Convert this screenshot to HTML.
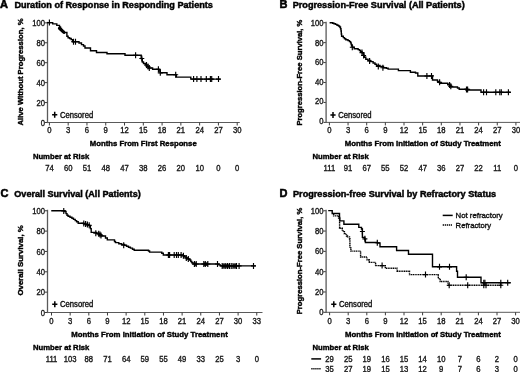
<!DOCTYPE html>
<html><head><meta charset="utf-8"><style>
html,body{margin:0;padding:0;background:#fff;width:520px;height:372px;overflow:hidden}
svg{display:block;will-change:transform;font-family:"Liberation Sans", sans-serif}
text{stroke:#000;stroke-width:.35px;paint-order:stroke}
text[font-weight=bold]{stroke-width:.4px}
text.H{stroke-width:.45px}
text.L{stroke-width:.55px}
</style></head><body>
<svg width="520" height="372" viewBox="0 0 520 372">
<rect width="520" height="372" fill="#fff"/>
<text x="0.1" y="8.3" font-size="11" font-weight="bold" fill="#000" class="L">A</text>
<text x="14.4" y="8.1" font-size="9" font-weight="bold" textLength="198.5" lengthAdjust="spacingAndGlyphs" fill="#000" class="H">Duration of Response in Responding Patients</text>
<line x1="47.5" y1="21.85" x2="47.5" y2="123.1" stroke="#5a5a5a" stroke-width="1.3"/>
<line x1="44.900000000000006" y1="122.5" x2="47.2" y2="122.5" stroke="#3a3a3a" stroke-width="1"/>
<text transform="translate(44.9,125.6) scale(0.89,1)" font-size="8.6" text-anchor="end" fill="#1a1a1a">0</text>
<line x1="44.900000000000006" y1="102.57" x2="47.2" y2="102.57" stroke="#3a3a3a" stroke-width="1"/>
<text transform="translate(44.9,105.67) scale(0.89,1)" font-size="8.6" text-anchor="end" fill="#1a1a1a">20</text>
<line x1="44.900000000000006" y1="82.64" x2="47.2" y2="82.64" stroke="#3a3a3a" stroke-width="1"/>
<text transform="translate(44.9,85.74) scale(0.89,1)" font-size="8.6" text-anchor="end" fill="#1a1a1a">40</text>
<line x1="44.900000000000006" y1="62.709999999999994" x2="47.2" y2="62.709999999999994" stroke="#3a3a3a" stroke-width="1"/>
<text transform="translate(44.9,65.81) scale(0.89,1)" font-size="8.6" text-anchor="end" fill="#1a1a1a">60</text>
<line x1="44.900000000000006" y1="42.78" x2="47.2" y2="42.78" stroke="#3a3a3a" stroke-width="1"/>
<text transform="translate(44.9,45.88) scale(0.89,1)" font-size="8.6" text-anchor="end" fill="#1a1a1a">80</text>
<line x1="44.900000000000006" y1="22.849999999999994" x2="47.2" y2="22.849999999999994" stroke="#3a3a3a" stroke-width="1"/>
<text transform="translate(44.9,25.95) scale(0.89,1)" font-size="8.6" text-anchor="end" fill="#1a1a1a">100</text>
<line x1="47.2" y1="122.5" x2="239.8" y2="122.5" stroke="#5a5a5a" stroke-width="1"/>
<line x1="49.4" y1="122.5" x2="49.4" y2="125.5" stroke="#3a3a3a" stroke-width="1"/>
<text transform="translate(49.4,133.3) scale(0.89,1)" font-size="8.6" text-anchor="middle" fill="#1a1a1a">0</text>
<line x1="68.18" y1="122.5" x2="68.18" y2="125.5" stroke="#3a3a3a" stroke-width="1"/>
<text transform="translate(68.18,133.3) scale(0.89,1)" font-size="8.6" text-anchor="middle" fill="#1a1a1a">3</text>
<line x1="86.96" y1="122.5" x2="86.96" y2="125.5" stroke="#3a3a3a" stroke-width="1"/>
<text transform="translate(86.96,133.3) scale(0.89,1)" font-size="8.6" text-anchor="middle" fill="#1a1a1a">6</text>
<line x1="105.74" y1="122.5" x2="105.74" y2="125.5" stroke="#3a3a3a" stroke-width="1"/>
<text transform="translate(105.74,133.3) scale(0.89,1)" font-size="8.6" text-anchor="middle" fill="#1a1a1a">9</text>
<line x1="124.52" y1="122.5" x2="124.52" y2="125.5" stroke="#3a3a3a" stroke-width="1"/>
<text transform="translate(124.52,133.3) scale(0.89,1)" font-size="8.6" text-anchor="middle" fill="#1a1a1a">12</text>
<line x1="143.3" y1="122.5" x2="143.3" y2="125.5" stroke="#3a3a3a" stroke-width="1"/>
<text transform="translate(143.3,133.3) scale(0.89,1)" font-size="8.6" text-anchor="middle" fill="#1a1a1a">15</text>
<line x1="162.08" y1="122.5" x2="162.08" y2="125.5" stroke="#3a3a3a" stroke-width="1"/>
<text transform="translate(162.08,133.3) scale(0.89,1)" font-size="8.6" text-anchor="middle" fill="#1a1a1a">18</text>
<line x1="180.86" y1="122.5" x2="180.86" y2="125.5" stroke="#3a3a3a" stroke-width="1"/>
<text transform="translate(180.86,133.3) scale(0.89,1)" font-size="8.6" text-anchor="middle" fill="#1a1a1a">21</text>
<line x1="199.64" y1="122.5" x2="199.64" y2="125.5" stroke="#3a3a3a" stroke-width="1"/>
<text transform="translate(199.64,133.3) scale(0.89,1)" font-size="8.6" text-anchor="middle" fill="#1a1a1a">24</text>
<line x1="218.42" y1="122.5" x2="218.42" y2="125.5" stroke="#3a3a3a" stroke-width="1"/>
<text transform="translate(218.42,133.3) scale(0.89,1)" font-size="8.6" text-anchor="middle" fill="#1a1a1a">27</text>
<line x1="237.2" y1="122.5" x2="237.2" y2="125.5" stroke="#3a3a3a" stroke-width="1"/>
<text transform="translate(237.2,133.3) scale(0.89,1)" font-size="8.6" text-anchor="middle" fill="#1a1a1a">30</text>
<text transform="translate(22.8,72.0) rotate(-90)" x="0" y="0" font-size="8" font-weight="bold" text-anchor="middle" textLength="107" lengthAdjust="spacingAndGlyphs" fill="#000">Alive Without Progression, %</text>
<text x="89.8" y="146" font-size="8.0" font-weight="bold" textLength="106.9" lengthAdjust="spacingAndGlyphs" fill="#000">Months From First Response</text>
<text x="32.9" y="159.2" font-size="8.0" font-weight="bold" textLength="56.3" lengthAdjust="spacingAndGlyphs" fill="#000">Number at Risk</text>
<text transform="translate(49.4,170.6) scale(0.89,1)" font-size="8.6" text-anchor="middle" fill="#1a1a1a">74</text>
<text transform="translate(68.18,170.6) scale(0.89,1)" font-size="8.6" text-anchor="middle" fill="#1a1a1a">60</text>
<text transform="translate(86.96,170.6) scale(0.89,1)" font-size="8.6" text-anchor="middle" fill="#1a1a1a">51</text>
<text transform="translate(105.74,170.6) scale(0.89,1)" font-size="8.6" text-anchor="middle" fill="#1a1a1a">48</text>
<text transform="translate(124.52,170.6) scale(0.89,1)" font-size="8.6" text-anchor="middle" fill="#1a1a1a">47</text>
<text transform="translate(143.3,170.6) scale(0.89,1)" font-size="8.6" text-anchor="middle" fill="#1a1a1a">38</text>
<text transform="translate(162.08,170.6) scale(0.89,1)" font-size="8.6" text-anchor="middle" fill="#1a1a1a">26</text>
<text transform="translate(180.86,170.6) scale(0.89,1)" font-size="8.6" text-anchor="middle" fill="#1a1a1a">20</text>
<text transform="translate(199.64,170.6) scale(0.89,1)" font-size="8.6" text-anchor="middle" fill="#1a1a1a">10</text>
<text transform="translate(218.42,170.6) scale(0.89,1)" font-size="8.6" text-anchor="middle" fill="#1a1a1a">0</text>
<text transform="translate(237.2,170.6) scale(0.89,1)" font-size="8.6" text-anchor="middle" fill="#1a1a1a">0</text>
<path d="M52.1 114.8H57.300000000000004M54.7 111.8V117.8" stroke="#000" stroke-width="1.5" fill="none"/>
<text x="59.9" y="117.5" font-size="8.2" textLength="33.3" lengthAdjust="spacingAndGlyphs" fill="#111">Censored</text>
<path d="M47.4 22.6H52.7V23.9H56.8V25.4H59.5V27H60.5V28.5H61.5V30H62.5V31.5H64V32.5H66.9V36.2H68.1V37.7H69.6V38.5H71.2V39.6H72.7V41.7H79V43H81.5V44.6H83.5V46H85V48H90.5V50.8H96.5V52.5H107V53.8H125V55.2H141.2V58.5H142.3V62H143.5V63.5H145.5V65H147V66.5H148.5V68H152.6V69.3H159V71H160.3V72.8H167V74.7H176.3V77.1H190.8V79.1H220.5" stroke="#000" stroke-width="1.4" fill="none"/>
<path d="M59.4 28.3L63.9 32.4" stroke="#000" stroke-width="3" stroke-linecap="round"/>
<path d="M46.9 22.6H51.9M49.4 19.6V25.6" stroke="#000" stroke-width="1.15" fill="none"/>
<path d="M71.0 41.7H76.0M73.5 38.7V44.7" stroke="#000" stroke-width="1.15" fill="none"/>
<path d="M73.0 41.7H78.0M75.5 38.7V44.7" stroke="#000" stroke-width="1.15" fill="none"/>
<path d="M133.1 55.2H138.1M135.6 52.2V58.2" stroke="#000" stroke-width="1.15" fill="none"/>
<path d="M139.3 58.5H144.3M141.8 55.5V61.5" stroke="#000" stroke-width="1.15" fill="none"/>
<path d="M144.0 65H149.0M146.5 62.0V68.0" stroke="#000" stroke-width="1.15" fill="none"/>
<path d="M145.5 66.5H150.5M148 63.5V69.5" stroke="#000" stroke-width="1.15" fill="none"/>
<path d="M146.8 68H151.8M149.3 65.0V71.0" stroke="#000" stroke-width="1.15" fill="none"/>
<path d="M155.9 69.3H160.9M158.4 66.3V72.3" stroke="#000" stroke-width="1.15" fill="none"/>
<path d="M157.8 72.8H162.8M160.3 69.8V75.8" stroke="#000" stroke-width="1.15" fill="none"/>
<path d="M173.2 74.7H178.2M175.7 71.7V77.7" stroke="#000" stroke-width="1.15" fill="none"/>
<path d="M191.1 79.1H196.1M193.6 76.1V82.1" stroke="#000" stroke-width="1.15" fill="none"/>
<path d="M194.4 79.1H199.4M196.9 76.1V82.1" stroke="#000" stroke-width="1.15" fill="none"/>
<path d="M198.5 79.1H203.5M201 76.1V82.1" stroke="#000" stroke-width="1.15" fill="none"/>
<path d="M203.8 79.1H208.8M206.3 76.1V82.1" stroke="#000" stroke-width="1.15" fill="none"/>
<path d="M207.9 79.1H212.9M210.4 76.1V82.1" stroke="#000" stroke-width="1.15" fill="none"/>
<path d="M209.2 79.1H214.2M211.7 76.1V82.1" stroke="#000" stroke-width="1.15" fill="none"/>
<path d="M216.0 79.1H221.0M218.5 76.1V82.1" stroke="#000" stroke-width="1.15" fill="none"/>
<text x="279.5" y="8.2" font-size="11" font-weight="bold" fill="#000" class="L">B</text>
<text x="292.7" y="7.95" font-size="9" font-weight="bold" textLength="172" lengthAdjust="spacingAndGlyphs" fill="#000" class="H">Progression-Free Survival (All Patients)</text>
<line x1="326.1" y1="21.7" x2="326.1" y2="123.0" stroke="#5a5a5a" stroke-width="1.3"/>
<line x1="323.5" y1="122.4" x2="325.8" y2="122.4" stroke="#3a3a3a" stroke-width="1"/>
<text transform="translate(323.5,123.5) scale(0.89,1)" font-size="8.6" text-anchor="end" fill="#1a1a1a">0</text>
<line x1="323.5" y1="102.46000000000001" x2="325.8" y2="102.46000000000001" stroke="#3a3a3a" stroke-width="1"/>
<text transform="translate(323.5,104.01) scale(0.89,1)" font-size="8.6" text-anchor="end" fill="#1a1a1a">20</text>
<line x1="323.5" y1="82.52000000000001" x2="325.8" y2="82.52000000000001" stroke="#3a3a3a" stroke-width="1"/>
<text transform="translate(323.5,84.52) scale(0.89,1)" font-size="8.6" text-anchor="end" fill="#1a1a1a">40</text>
<line x1="323.5" y1="62.58" x2="325.8" y2="62.58" stroke="#3a3a3a" stroke-width="1"/>
<text transform="translate(323.5,65.03) scale(0.89,1)" font-size="8.6" text-anchor="end" fill="#1a1a1a">60</text>
<line x1="323.5" y1="42.64" x2="325.8" y2="42.64" stroke="#3a3a3a" stroke-width="1"/>
<text transform="translate(323.5,45.54) scale(0.89,1)" font-size="8.6" text-anchor="end" fill="#1a1a1a">80</text>
<line x1="323.5" y1="22.700000000000003" x2="325.8" y2="22.700000000000003" stroke="#3a3a3a" stroke-width="1"/>
<text transform="translate(323.5,26.05) scale(0.89,1)" font-size="8.6" text-anchor="end" fill="#1a1a1a">100</text>
<line x1="325.8" y1="122.4" x2="520" y2="122.4" stroke="#5a5a5a" stroke-width="1"/>
<line x1="329.4" y1="122.4" x2="329.4" y2="125.4" stroke="#3a3a3a" stroke-width="1"/>
<text transform="translate(329.4,133.3) scale(0.89,1)" font-size="8.6" text-anchor="middle" fill="#1a1a1a">0</text>
<line x1="348.05" y1="122.4" x2="348.05" y2="125.4" stroke="#3a3a3a" stroke-width="1"/>
<text transform="translate(348.05,133.3) scale(0.89,1)" font-size="8.6" text-anchor="middle" fill="#1a1a1a">3</text>
<line x1="366.7" y1="122.4" x2="366.7" y2="125.4" stroke="#3a3a3a" stroke-width="1"/>
<text transform="translate(366.7,133.3) scale(0.89,1)" font-size="8.6" text-anchor="middle" fill="#1a1a1a">6</text>
<line x1="385.35" y1="122.4" x2="385.35" y2="125.4" stroke="#3a3a3a" stroke-width="1"/>
<text transform="translate(385.35,133.3) scale(0.89,1)" font-size="8.6" text-anchor="middle" fill="#1a1a1a">9</text>
<line x1="404.0" y1="122.4" x2="404.0" y2="125.4" stroke="#3a3a3a" stroke-width="1"/>
<text transform="translate(404.0,133.3) scale(0.89,1)" font-size="8.6" text-anchor="middle" fill="#1a1a1a">12</text>
<line x1="422.65" y1="122.4" x2="422.65" y2="125.4" stroke="#3a3a3a" stroke-width="1"/>
<text transform="translate(422.65,133.3) scale(0.89,1)" font-size="8.6" text-anchor="middle" fill="#1a1a1a">15</text>
<line x1="441.31" y1="122.4" x2="441.31" y2="125.4" stroke="#3a3a3a" stroke-width="1"/>
<text transform="translate(441.31,133.3) scale(0.89,1)" font-size="8.6" text-anchor="middle" fill="#1a1a1a">18</text>
<line x1="459.96" y1="122.4" x2="459.96" y2="125.4" stroke="#3a3a3a" stroke-width="1"/>
<text transform="translate(459.96,133.3) scale(0.89,1)" font-size="8.6" text-anchor="middle" fill="#1a1a1a">21</text>
<line x1="478.61" y1="122.4" x2="478.61" y2="125.4" stroke="#3a3a3a" stroke-width="1"/>
<text transform="translate(478.61,133.3) scale(0.89,1)" font-size="8.6" text-anchor="middle" fill="#1a1a1a">24</text>
<line x1="497.26" y1="122.4" x2="497.26" y2="125.4" stroke="#3a3a3a" stroke-width="1"/>
<text transform="translate(497.26,133.3) scale(0.89,1)" font-size="8.6" text-anchor="middle" fill="#1a1a1a">27</text>
<line x1="515.91" y1="122.4" x2="515.91" y2="125.4" stroke="#3a3a3a" stroke-width="1"/>
<text transform="translate(515.91,133.3) scale(0.89,1)" font-size="8.6" text-anchor="middle" fill="#1a1a1a">30</text>
<text transform="translate(302.0,72.6) rotate(-90)" x="0" y="0" font-size="8" font-weight="bold" text-anchor="middle" textLength="106" lengthAdjust="spacingAndGlyphs" fill="#000">Progression-Free Survival, %</text>
<text x="344.7" y="146" font-size="8.0" font-weight="bold" textLength="156.1" lengthAdjust="spacingAndGlyphs" fill="#000">Months From Initiation of Study Treatment</text>
<text x="312.5" y="159.2" font-size="8.0" font-weight="bold" textLength="56.3" lengthAdjust="spacingAndGlyphs" fill="#000">Number at Risk</text>
<text transform="translate(329.4,170.6) scale(0.89,1)" font-size="8.6" text-anchor="middle" fill="#1a1a1a">111</text>
<text transform="translate(348.05,170.6) scale(0.89,1)" font-size="8.6" text-anchor="middle" fill="#1a1a1a">91</text>
<text transform="translate(366.7,170.6) scale(0.89,1)" font-size="8.6" text-anchor="middle" fill="#1a1a1a">67</text>
<text transform="translate(385.35,170.6) scale(0.89,1)" font-size="8.6" text-anchor="middle" fill="#1a1a1a">55</text>
<text transform="translate(404.0,170.6) scale(0.89,1)" font-size="8.6" text-anchor="middle" fill="#1a1a1a">52</text>
<text transform="translate(422.65,170.6) scale(0.89,1)" font-size="8.6" text-anchor="middle" fill="#1a1a1a">47</text>
<text transform="translate(441.31,170.6) scale(0.89,1)" font-size="8.6" text-anchor="middle" fill="#1a1a1a">36</text>
<text transform="translate(459.96,170.6) scale(0.89,1)" font-size="8.6" text-anchor="middle" fill="#1a1a1a">27</text>
<text transform="translate(478.61,170.6) scale(0.89,1)" font-size="8.6" text-anchor="middle" fill="#1a1a1a">22</text>
<text transform="translate(497.26,170.6) scale(0.89,1)" font-size="8.6" text-anchor="middle" fill="#1a1a1a">11</text>
<text transform="translate(515.91,170.6) scale(0.89,1)" font-size="8.6" text-anchor="middle" fill="#1a1a1a">0</text>
<path d="M330.4 114.89999999999999H335.6M333.0 111.89999999999999V117.89999999999999" stroke="#000" stroke-width="1.5" fill="none"/>
<text x="338.2" y="117.6" font-size="8.2" textLength="33.3" lengthAdjust="spacingAndGlyphs" fill="#111">Censored</text>
<text x="0.4" y="197.3" font-size="11" font-weight="bold" fill="#000" class="L">C</text>
<text x="14.3" y="197" font-size="9" font-weight="bold" textLength="126.4" lengthAdjust="spacingAndGlyphs" fill="#000" class="H">Overall Survival (All Patients)</text>
<line x1="47.5" y1="209.75" x2="47.5" y2="313.1" stroke="#5a5a5a" stroke-width="1.3"/>
<line x1="44.900000000000006" y1="312.5" x2="47.2" y2="312.5" stroke="#3a3a3a" stroke-width="1"/>
<text transform="translate(44.9,315.6) scale(0.89,1)" font-size="8.6" text-anchor="end" fill="#1a1a1a">0</text>
<line x1="44.900000000000006" y1="292.15" x2="47.2" y2="292.15" stroke="#3a3a3a" stroke-width="1"/>
<text transform="translate(44.9,295.25) scale(0.89,1)" font-size="8.6" text-anchor="end" fill="#1a1a1a">20</text>
<line x1="44.900000000000006" y1="271.8" x2="47.2" y2="271.8" stroke="#3a3a3a" stroke-width="1"/>
<text transform="translate(44.9,274.9) scale(0.89,1)" font-size="8.6" text-anchor="end" fill="#1a1a1a">40</text>
<line x1="44.900000000000006" y1="251.45" x2="47.2" y2="251.45" stroke="#3a3a3a" stroke-width="1"/>
<text transform="translate(44.9,254.55) scale(0.89,1)" font-size="8.6" text-anchor="end" fill="#1a1a1a">60</text>
<line x1="44.900000000000006" y1="231.1" x2="47.2" y2="231.1" stroke="#3a3a3a" stroke-width="1"/>
<text transform="translate(44.9,234.2) scale(0.89,1)" font-size="8.6" text-anchor="end" fill="#1a1a1a">80</text>
<line x1="44.900000000000006" y1="210.75" x2="47.2" y2="210.75" stroke="#3a3a3a" stroke-width="1"/>
<text transform="translate(44.9,213.85) scale(0.89,1)" font-size="8.6" text-anchor="end" fill="#1a1a1a">100</text>
<line x1="47.2" y1="312.5" x2="262.5" y2="312.5" stroke="#5a5a5a" stroke-width="1"/>
<line x1="51.5" y1="312.5" x2="51.5" y2="315.5" stroke="#3a3a3a" stroke-width="1"/>
<text transform="translate(51.5,323.5) scale(0.89,1)" font-size="8.6" text-anchor="middle" fill="#1a1a1a">0</text>
<line x1="70.16" y1="312.5" x2="70.16" y2="315.5" stroke="#3a3a3a" stroke-width="1"/>
<text transform="translate(70.16,323.5) scale(0.89,1)" font-size="8.6" text-anchor="middle" fill="#1a1a1a">3</text>
<line x1="88.82" y1="312.5" x2="88.82" y2="315.5" stroke="#3a3a3a" stroke-width="1"/>
<text transform="translate(88.82,323.5) scale(0.89,1)" font-size="8.6" text-anchor="middle" fill="#1a1a1a">6</text>
<line x1="107.48" y1="312.5" x2="107.48" y2="315.5" stroke="#3a3a3a" stroke-width="1"/>
<text transform="translate(107.48,323.5) scale(0.89,1)" font-size="8.6" text-anchor="middle" fill="#1a1a1a">9</text>
<line x1="126.14" y1="312.5" x2="126.14" y2="315.5" stroke="#3a3a3a" stroke-width="1"/>
<text transform="translate(126.14,323.5) scale(0.89,1)" font-size="8.6" text-anchor="middle" fill="#1a1a1a">12</text>
<line x1="144.8" y1="312.5" x2="144.8" y2="315.5" stroke="#3a3a3a" stroke-width="1"/>
<text transform="translate(144.8,323.5) scale(0.89,1)" font-size="8.6" text-anchor="middle" fill="#1a1a1a">15</text>
<line x1="163.46" y1="312.5" x2="163.46" y2="315.5" stroke="#3a3a3a" stroke-width="1"/>
<text transform="translate(163.46,323.5) scale(0.89,1)" font-size="8.6" text-anchor="middle" fill="#1a1a1a">18</text>
<line x1="182.12" y1="312.5" x2="182.12" y2="315.5" stroke="#3a3a3a" stroke-width="1"/>
<text transform="translate(182.12,323.5) scale(0.89,1)" font-size="8.6" text-anchor="middle" fill="#1a1a1a">21</text>
<line x1="200.78" y1="312.5" x2="200.78" y2="315.5" stroke="#3a3a3a" stroke-width="1"/>
<text transform="translate(200.78,323.5) scale(0.89,1)" font-size="8.6" text-anchor="middle" fill="#1a1a1a">24</text>
<line x1="219.44" y1="312.5" x2="219.44" y2="315.5" stroke="#3a3a3a" stroke-width="1"/>
<text transform="translate(219.44,323.5) scale(0.89,1)" font-size="8.6" text-anchor="middle" fill="#1a1a1a">27</text>
<line x1="238.1" y1="312.5" x2="238.1" y2="315.5" stroke="#3a3a3a" stroke-width="1"/>
<text transform="translate(238.1,323.5) scale(0.89,1)" font-size="8.6" text-anchor="middle" fill="#1a1a1a">30</text>
<line x1="256.76" y1="312.5" x2="256.76" y2="315.5" stroke="#3a3a3a" stroke-width="1"/>
<text transform="translate(256.76,323.5) scale(0.89,1)" font-size="8.6" text-anchor="middle" fill="#1a1a1a">33</text>
<text transform="translate(23.1,260.4) rotate(-90)" x="0" y="0" font-size="8" font-weight="bold" text-anchor="middle" textLength="70.1" lengthAdjust="spacingAndGlyphs" fill="#000">Overall Survival, %</text>
<text x="71.25" y="336.6" font-size="8.0" font-weight="bold" textLength="156.5" lengthAdjust="spacingAndGlyphs" fill="#000">Months From Initiation of Study Treatment</text>
<text x="33" y="350" font-size="8.0" font-weight="bold" textLength="56.3" lengthAdjust="spacingAndGlyphs" fill="#000">Number at Risk</text>
<text transform="translate(51.5,361.8) scale(0.89,1)" font-size="8.6" text-anchor="middle" fill="#1a1a1a">111</text>
<text transform="translate(70.16,361.8) scale(0.89,1)" font-size="8.6" text-anchor="middle" fill="#1a1a1a">103</text>
<text transform="translate(88.82,361.8) scale(0.89,1)" font-size="8.6" text-anchor="middle" fill="#1a1a1a">88</text>
<text transform="translate(107.48,361.8) scale(0.89,1)" font-size="8.6" text-anchor="middle" fill="#1a1a1a">71</text>
<text transform="translate(126.14,361.8) scale(0.89,1)" font-size="8.6" text-anchor="middle" fill="#1a1a1a">64</text>
<text transform="translate(144.8,361.8) scale(0.89,1)" font-size="8.6" text-anchor="middle" fill="#1a1a1a">59</text>
<text transform="translate(163.46,361.8) scale(0.89,1)" font-size="8.6" text-anchor="middle" fill="#1a1a1a">55</text>
<text transform="translate(182.12,361.8) scale(0.89,1)" font-size="8.6" text-anchor="middle" fill="#1a1a1a">49</text>
<text transform="translate(200.78,361.8) scale(0.89,1)" font-size="8.6" text-anchor="middle" fill="#1a1a1a">33</text>
<text transform="translate(219.44,361.8) scale(0.89,1)" font-size="8.6" text-anchor="middle" fill="#1a1a1a">25</text>
<text transform="translate(238.1,361.8) scale(0.89,1)" font-size="8.6" text-anchor="middle" fill="#1a1a1a">3</text>
<text transform="translate(256.76,361.8) scale(0.89,1)" font-size="8.6" text-anchor="middle" fill="#1a1a1a">0</text>
<path d="M52.2 304.3H57.400000000000006M54.800000000000004 301.3V307.3" stroke="#000" stroke-width="1.5" fill="none"/>
<text x="60.0" y="307.0" font-size="8.2" textLength="33.3" lengthAdjust="spacingAndGlyphs" fill="#111">Censored</text>
<text x="279.5" y="196.8" font-size="11" font-weight="bold" fill="#000" class="L">D</text>
<text x="293" y="197" font-size="9" font-weight="bold" textLength="203.1" lengthAdjust="spacingAndGlyphs" fill="#000" class="H">Progression-free Survival by Refractory Status</text>
<line x1="326.1" y1="209.75" x2="326.1" y2="312.90000000000003" stroke="#5a5a5a" stroke-width="1.3"/>
<line x1="323.5" y1="312.3" x2="325.8" y2="312.3" stroke="#3a3a3a" stroke-width="1"/>
<text transform="translate(323.5,315.4) scale(0.89,1)" font-size="8.6" text-anchor="end" fill="#1a1a1a">0</text>
<line x1="323.5" y1="291.99" x2="325.8" y2="291.99" stroke="#3a3a3a" stroke-width="1"/>
<text transform="translate(323.5,295.09) scale(0.89,1)" font-size="8.6" text-anchor="end" fill="#1a1a1a">20</text>
<line x1="323.5" y1="271.68" x2="325.8" y2="271.68" stroke="#3a3a3a" stroke-width="1"/>
<text transform="translate(323.5,274.78) scale(0.89,1)" font-size="8.6" text-anchor="end" fill="#1a1a1a">40</text>
<line x1="323.5" y1="251.37" x2="325.8" y2="251.37" stroke="#3a3a3a" stroke-width="1"/>
<text transform="translate(323.5,254.47) scale(0.89,1)" font-size="8.6" text-anchor="end" fill="#1a1a1a">60</text>
<line x1="323.5" y1="231.06" x2="325.8" y2="231.06" stroke="#3a3a3a" stroke-width="1"/>
<text transform="translate(323.5,234.16) scale(0.89,1)" font-size="8.6" text-anchor="end" fill="#1a1a1a">80</text>
<line x1="323.5" y1="210.75" x2="325.8" y2="210.75" stroke="#3a3a3a" stroke-width="1"/>
<text transform="translate(323.5,213.85) scale(0.89,1)" font-size="8.6" text-anchor="end" fill="#1a1a1a">100</text>
<line x1="325.8" y1="312.3" x2="520" y2="312.3" stroke="#5a5a5a" stroke-width="1"/>
<line x1="329.6" y1="312.3" x2="329.6" y2="315.3" stroke="#3a3a3a" stroke-width="1"/>
<text transform="translate(329.6,324) scale(0.89,1)" font-size="8.6" text-anchor="middle" fill="#1a1a1a">0</text>
<line x1="348.2" y1="312.3" x2="348.2" y2="315.3" stroke="#3a3a3a" stroke-width="1"/>
<text transform="translate(348.2,324) scale(0.89,1)" font-size="8.6" text-anchor="middle" fill="#1a1a1a">3</text>
<line x1="366.8" y1="312.3" x2="366.8" y2="315.3" stroke="#3a3a3a" stroke-width="1"/>
<text transform="translate(366.8,324) scale(0.89,1)" font-size="8.6" text-anchor="middle" fill="#1a1a1a">6</text>
<line x1="385.4" y1="312.3" x2="385.4" y2="315.3" stroke="#3a3a3a" stroke-width="1"/>
<text transform="translate(385.4,324) scale(0.89,1)" font-size="8.6" text-anchor="middle" fill="#1a1a1a">9</text>
<line x1="404.0" y1="312.3" x2="404.0" y2="315.3" stroke="#3a3a3a" stroke-width="1"/>
<text transform="translate(404.0,324) scale(0.89,1)" font-size="8.6" text-anchor="middle" fill="#1a1a1a">12</text>
<line x1="422.6" y1="312.3" x2="422.6" y2="315.3" stroke="#3a3a3a" stroke-width="1"/>
<text transform="translate(422.6,324) scale(0.89,1)" font-size="8.6" text-anchor="middle" fill="#1a1a1a">15</text>
<line x1="441.2" y1="312.3" x2="441.2" y2="315.3" stroke="#3a3a3a" stroke-width="1"/>
<text transform="translate(441.2,324) scale(0.89,1)" font-size="8.6" text-anchor="middle" fill="#1a1a1a">18</text>
<line x1="459.8" y1="312.3" x2="459.8" y2="315.3" stroke="#3a3a3a" stroke-width="1"/>
<text transform="translate(459.8,324) scale(0.89,1)" font-size="8.6" text-anchor="middle" fill="#1a1a1a">21</text>
<line x1="478.4" y1="312.3" x2="478.4" y2="315.3" stroke="#3a3a3a" stroke-width="1"/>
<text transform="translate(478.4,324) scale(0.89,1)" font-size="8.6" text-anchor="middle" fill="#1a1a1a">24</text>
<line x1="497.0" y1="312.3" x2="497.0" y2="315.3" stroke="#3a3a3a" stroke-width="1"/>
<text transform="translate(497.0,324) scale(0.89,1)" font-size="8.6" text-anchor="middle" fill="#1a1a1a">27</text>
<line x1="515.6" y1="312.3" x2="515.6" y2="315.3" stroke="#3a3a3a" stroke-width="1"/>
<text transform="translate(515.6,324) scale(0.89,1)" font-size="8.6" text-anchor="middle" fill="#1a1a1a">30</text>
<text transform="translate(301.5,261.0) rotate(-90)" x="0" y="0" font-size="8" font-weight="bold" text-anchor="middle" textLength="106.5" lengthAdjust="spacingAndGlyphs" fill="#000">Progression-Free Survival, %</text>
<text x="345" y="337" font-size="8.0" font-weight="bold" textLength="155.8" lengthAdjust="spacingAndGlyphs" fill="#000">Months From Initiation of Study Treatment</text>
<text x="312.5" y="350" font-size="8.0" font-weight="bold" textLength="56.3" lengthAdjust="spacingAndGlyphs" fill="#000">Number at Risk</text>
<text transform="translate(329.6,361.6) scale(0.89,1)" font-size="8.6" text-anchor="middle" fill="#1a1a1a">29</text>
<text transform="translate(348.2,361.6) scale(0.89,1)" font-size="8.6" text-anchor="middle" fill="#1a1a1a">25</text>
<text transform="translate(366.8,361.6) scale(0.89,1)" font-size="8.6" text-anchor="middle" fill="#1a1a1a">19</text>
<text transform="translate(385.4,361.6) scale(0.89,1)" font-size="8.6" text-anchor="middle" fill="#1a1a1a">16</text>
<text transform="translate(404.0,361.6) scale(0.89,1)" font-size="8.6" text-anchor="middle" fill="#1a1a1a">15</text>
<text transform="translate(422.6,361.6) scale(0.89,1)" font-size="8.6" text-anchor="middle" fill="#1a1a1a">14</text>
<text transform="translate(441.2,361.6) scale(0.89,1)" font-size="8.6" text-anchor="middle" fill="#1a1a1a">10</text>
<text transform="translate(459.8,361.6) scale(0.89,1)" font-size="8.6" text-anchor="middle" fill="#1a1a1a">7</text>
<text transform="translate(478.4,361.6) scale(0.89,1)" font-size="8.6" text-anchor="middle" fill="#1a1a1a">6</text>
<text transform="translate(497.0,361.6) scale(0.89,1)" font-size="8.6" text-anchor="middle" fill="#1a1a1a">2</text>
<text transform="translate(515.6,361.6) scale(0.89,1)" font-size="8.6" text-anchor="middle" fill="#1a1a1a">0</text>
<text transform="translate(329.6,372.3) scale(0.89,1)" font-size="8.6" text-anchor="middle" fill="#1a1a1a">35</text>
<text transform="translate(348.2,372.3) scale(0.89,1)" font-size="8.6" text-anchor="middle" fill="#1a1a1a">27</text>
<text transform="translate(366.8,372.3) scale(0.89,1)" font-size="8.6" text-anchor="middle" fill="#1a1a1a">19</text>
<text transform="translate(385.4,372.3) scale(0.89,1)" font-size="8.6" text-anchor="middle" fill="#1a1a1a">15</text>
<text transform="translate(404.0,372.3) scale(0.89,1)" font-size="8.6" text-anchor="middle" fill="#1a1a1a">13</text>
<text transform="translate(422.6,372.3) scale(0.89,1)" font-size="8.6" text-anchor="middle" fill="#1a1a1a">12</text>
<text transform="translate(441.2,372.3) scale(0.89,1)" font-size="8.6" text-anchor="middle" fill="#1a1a1a">9</text>
<text transform="translate(459.8,372.3) scale(0.89,1)" font-size="8.6" text-anchor="middle" fill="#1a1a1a">7</text>
<text transform="translate(478.4,372.3) scale(0.89,1)" font-size="8.6" text-anchor="middle" fill="#1a1a1a">6</text>
<text transform="translate(497.0,372.3) scale(0.89,1)" font-size="8.6" text-anchor="middle" fill="#1a1a1a">3</text>
<text transform="translate(515.6,372.3) scale(0.89,1)" font-size="8.6" text-anchor="middle" fill="#1a1a1a">0</text>
<line x1="311.3" y1="358.9" x2="321.1" y2="358.9" stroke="#000" stroke-width="1.5"/>
<line x1="311.3" y1="368.8" x2="321.1" y2="368.8" stroke="#000" stroke-width="1.4" stroke-dasharray="1.3 0.7"/>
<path d="M331.2 304.3H336.40000000000003M333.8 301.3V307.3" stroke="#000" stroke-width="1.5" fill="none"/>
<text x="339.0" y="307" font-size="8.2" textLength="33.3" lengthAdjust="spacingAndGlyphs" fill="#111">Censored</text>
<line x1="442.7" y1="215.4" x2="452.7" y2="215.4" stroke="#000" stroke-width="1.5"/>
<line x1="442.7" y1="225" x2="452.7" y2="225" stroke="#000" stroke-width="1.4" stroke-dasharray="1.3 0.7"/>
<text x="455.6" y="218.3" font-size="8.1" textLength="47.1" lengthAdjust="spacingAndGlyphs" fill="#111">Not refractory</text>
<text x="455.6" y="227.9" font-size="8.1" textLength="35.6" lengthAdjust="spacingAndGlyphs" fill="#111">Refractory</text>
<path d="M329.6 22.8H332.7V23.2H334V23.8H335.5V24.4H337V25.2H338.5V26H339.6V27H340.5V28.8H341V31H341.3V34H341.6V36.2H343.3V37.6H344.5V38.8H345.8V39.8H348V40.6H349.5V41.6H350.6V42.9H351.2V44.5H351.6V46H352.5V47.2H354.2V48.8H358.1V49.6H359.5V50.5H360.6V51.6H362V52.6H363V54H364V56H364.6V57.3H365.8V59.3H368V60.5H370.5V61.6H373.1V63H375V64.3H376.5V65.4H380V66.5H383.5V67.7H386.3V68.3H388.1V69.1H398.4V70.6H410.4V72.3H415.5V73H417.8V76H432.5V80H437.5V81.5H439.6V83.3H447.7V84.3H449.5V85.5H451V87H457.5V88H459.2V89.2H466V90H481V92.3H510.7V92.3" stroke="#000" stroke-width="1.4" fill="none"/>
<path d="M349.8 47.2H354.8M352.3 44.2V50.2" stroke="#000" stroke-width="1.15" fill="none"/>
<path d="M359.5 52.6H364.5M362 49.6V55.6" stroke="#000" stroke-width="1.15" fill="none"/>
<path d="M361.1 55.5H366.1M363.6 52.5V58.5" stroke="#000" stroke-width="1.15" fill="none"/>
<path d="M367.1 61H372.1M369.6 58.0V64.0" stroke="#000" stroke-width="1.15" fill="none"/>
<path d="M375.8 66.5H380.8M378.3 63.5V69.5" stroke="#000" stroke-width="1.15" fill="none"/>
<path d="M380.4 67.7H385.4M382.9 64.7V70.7" stroke="#000" stroke-width="1.15" fill="none"/>
<path d="M424.4 76H429.4M426.9 73.0V79.0" stroke="#000" stroke-width="1.15" fill="none"/>
<path d="M429.0 75.9H434.0M431.5 72.9V78.9" stroke="#000" stroke-width="1.15" fill="none"/>
<path d="M437.1 82.3H442.1M439.6 79.3V85.3" stroke="#000" stroke-width="1.15" fill="none"/>
<path d="M447.1 85H452.1M449.6 82.0V88.0" stroke="#000" stroke-width="1.15" fill="none"/>
<path d="M448.3 86.3H453.3M450.8 83.3V89.3" stroke="#000" stroke-width="1.15" fill="none"/>
<path d="M464.0 89.4H469.0M466.5 86.4V92.4" stroke="#000" stroke-width="1.15" fill="none"/>
<path d="M465.1 89.4H470.1M467.6 86.4V92.4" stroke="#000" stroke-width="1.15" fill="none"/>
<path d="M481.1 92.3H486.1M483.6 89.3V95.3" stroke="#000" stroke-width="1.15" fill="none"/>
<path d="M484.0 92.3H489.0M486.5 89.3V95.3" stroke="#000" stroke-width="1.15" fill="none"/>
<path d="M493.3 92.3H498.3M495.8 89.3V95.3" stroke="#000" stroke-width="1.15" fill="none"/>
<path d="M497.3 92.3H502.3M499.8 89.3V95.3" stroke="#000" stroke-width="1.15" fill="none"/>
<path d="M498.8 92.3H503.8M501.3 89.3V95.3" stroke="#000" stroke-width="1.15" fill="none"/>
<path d="M505.9 92.3H510.9M508.4 89.3V95.3" stroke="#000" stroke-width="1.15" fill="none"/>
<path d="M51.25 210.8H64.8V211.6H66V213.6H67V215.2H68.1V216.3H70V217.3H71.9V218.3H73.5V219.4H75.2V220.6H76.6V221.8H78.2V223.3H83.5V223.9H85.5V224.5H87.5V225.1H89.5V225.8H90.4V228.6H91.2V232.4H96.5V233.2H98.9V234H100.2V235H101.5V236H105.5V238H107.3V239.9H114.5V241.5H115.5V242.6H118.8V243.75H121.5V244.5H124.5V245.3H126.5V246.2H128.5V247.2H130.4V248.1H132.5V249.2H134.2V250.3H148.5V251H149.6V252.1H161.8V253.3H163.3V255H183.2V255.6H184.5V256.9H186V258H188V259H189.6V260H190.8V261.5H191.8V262.8H193V264H218.9V264.9H220.3V265.9H255.7V265.9" stroke="#000" stroke-width="1.4" fill="none"/>
<path d="M61.25 210.9H66.25M63.75 207.9V213.9" stroke="#000" stroke-width="1.15" fill="none"/>
<path d="M81.3 223.4H86.3M83.8 220.4V226.4" stroke="#000" stroke-width="1.15" fill="none"/>
<path d="M83.1 224H88.1M85.6 221.0V227.0" stroke="#000" stroke-width="1.15" fill="none"/>
<path d="M84.9 224.6H89.9M87.4 221.6V227.6" stroke="#000" stroke-width="1.15" fill="none"/>
<path d="M86.7 225.3H91.7M89.2 222.3V228.3" stroke="#000" stroke-width="1.15" fill="none"/>
<path d="M93.3 233.2H98.3M95.8 230.2V236.2" stroke="#000" stroke-width="1.15" fill="none"/>
<path d="M96.2 233.8H101.2M98.7 230.8V236.8" stroke="#000" stroke-width="1.15" fill="none"/>
<path d="M97.5 234.6H102.5M100 231.6V237.6" stroke="#000" stroke-width="1.15" fill="none"/>
<path d="M98.5 235.6H103.5M101 232.6V238.6" stroke="#000" stroke-width="1.15" fill="none"/>
<path d="M121.2 245.2H126.2M123.7 242.2V248.2" stroke="#000" stroke-width="1.15" fill="none"/>
<path d="M165.9 255H170.9M168.4 252.0V258.0" stroke="#000" stroke-width="1.15" fill="none"/>
<path d="M167.1 255H172.1M169.6 252.0V258.0" stroke="#000" stroke-width="1.15" fill="none"/>
<path d="M171.7 255H176.7M174.2 252.0V258.0" stroke="#000" stroke-width="1.15" fill="none"/>
<path d="M174.0 255H179.0M176.5 252.0V258.0" stroke="#000" stroke-width="1.15" fill="none"/>
<path d="M175.8 255H180.8M178.3 252.0V258.0" stroke="#000" stroke-width="1.15" fill="none"/>
<path d="M178.6 255H183.6M181.1 252.0V258.0" stroke="#000" stroke-width="1.15" fill="none"/>
<path d="M180.9 255.8H185.9M183.4 252.8V258.8" stroke="#000" stroke-width="1.15" fill="none"/>
<path d="M183.8 258H188.8M186.3 255.0V261.0" stroke="#000" stroke-width="1.15" fill="none"/>
<path d="M185.8 259H190.8M188.3 256.0V262.0" stroke="#000" stroke-width="1.15" fill="none"/>
<path d="M191.9 264H196.9M194.4 261.0V267.0" stroke="#000" stroke-width="1.15" fill="none"/>
<path d="M193.7 264H198.7M196.2 261.0V267.0" stroke="#000" stroke-width="1.15" fill="none"/>
<path d="M201.3 264H206.3M203.8 261.0V267.0" stroke="#000" stroke-width="1.15" fill="none"/>
<path d="M202.8 264H207.8M205.3 261.0V267.0" stroke="#000" stroke-width="1.15" fill="none"/>
<path d="M205.3 264H210.3M207.8 261.0V267.0" stroke="#000" stroke-width="1.15" fill="none"/>
<path d="M215.0 264H220.0M217.5 261.0V267.0" stroke="#000" stroke-width="1.15" fill="none"/>
<path d="M219.7 265.9H224.7M222.2 262.9V268.9" stroke="#000" stroke-width="1.15" fill="none"/>
<path d="M221.5 265.9H226.5M224 262.9V268.9" stroke="#000" stroke-width="1.15" fill="none"/>
<path d="M223.3 265.9H228.3M225.8 262.9V268.9" stroke="#000" stroke-width="1.15" fill="none"/>
<path d="M225.1 265.9H230.1M227.6 262.9V268.9" stroke="#000" stroke-width="1.15" fill="none"/>
<path d="M226.9 265.9H231.9M229.4 262.9V268.9" stroke="#000" stroke-width="1.15" fill="none"/>
<path d="M228.7 265.9H233.7M231.2 262.9V268.9" stroke="#000" stroke-width="1.15" fill="none"/>
<path d="M230.5 265.9H235.5M233 262.9V268.9" stroke="#000" stroke-width="1.15" fill="none"/>
<path d="M232.5 265.9H237.5M235 262.9V268.9" stroke="#000" stroke-width="1.15" fill="none"/>
<path d="M234.0 265.9H239.0M236.5 262.9V268.9" stroke="#000" stroke-width="1.15" fill="none"/>
<path d="M236.6 265.9H241.6M239.1 262.9V268.9" stroke="#000" stroke-width="1.15" fill="none"/>
<path d="M251.0 265.9H256.0M253.5 262.9V268.9" stroke="#000" stroke-width="1.15" fill="none"/>
<rect x="194.4" y="262.4" width="2.2" height="3.4" fill="#000"/>
<rect x="204" y="262.4" width="3.8" height="3.4" fill="#000"/>
<rect x="222" y="264.3" width="7.6" height="3.3" fill="#000"/>
<rect x="232.8" y="264.3" width="3.2" height="3.3" fill="#000"/>
<path d="M333.2 214.2H333.6V215.9H338.6V219H339.6V228.2H342.3V231H344.4V233.9H346.5V236H347.5V236.9H349.5V238.8H349.9V248H350.9V251.1H360.6V257H367V259.7H369.2V262.4H375.6V265.6H385.3V268.3H397V271.2H409.5V274.6H438.3V278.6H440.2V281.5H448V285.2H501.5V285.2" stroke="#000" stroke-width="1.4" fill="none" stroke-dasharray="1.2 0.55"/>
<path d="M328.2 210.6H332.2V213.5H339.5V217.4H339.8V220.9H343.9V224.2H358.8V227.4H361.5V229H362.4V237.4H364.8V239.5H365.4V242.5H377.3V243H380V246.8H396.6V250.5H408.5V254.2H432.5V266.8H456.6V271.2H457.5V277.3H481V282.7H510.8V282.7" stroke="#000" stroke-width="1.4" fill="none"/>
<path d="M359.9 231.5H364.9M362.4 228.5V234.5" stroke="#000" stroke-width="1.15" fill="none"/>
<path d="M362.4 238.8H367.4M364.9 235.8V241.8" stroke="#000" stroke-width="1.15" fill="none"/>
<path d="M374.8 242.7H379.8M377.3 239.7V245.7" stroke="#000" stroke-width="1.15" fill="none"/>
<path d="M437.0 266.8H442.0M439.5 263.8V269.8" stroke="#000" stroke-width="1.15" fill="none"/>
<path d="M447.0 266.8H452.0M449.5 263.8V269.8" stroke="#000" stroke-width="1.15" fill="none"/>
<path d="M463.7 277.3H468.7M466.2 274.3V280.3" stroke="#000" stroke-width="1.15" fill="none"/>
<path d="M481.3 282.7H486.3M483.8 279.7V285.7" stroke="#000" stroke-width="1.15" fill="none"/>
<path d="M482.4 282.7H487.4M484.9 279.7V285.7" stroke="#000" stroke-width="1.15" fill="none"/>
<path d="M498.3 282.7H503.3M500.8 279.7V285.7" stroke="#000" stroke-width="1.15" fill="none"/>
<path d="M505.2 282.7H510.2M507.7 279.7V285.7" stroke="#000" stroke-width="1.15" fill="none"/>
<path d="M379.6 265.6H384.6M382.1 262.6V268.6" stroke="#000" stroke-width="1.15" fill="none"/>
<path d="M423.0 274.6H428.0M425.5 271.6V277.6" stroke="#000" stroke-width="1.15" fill="none"/>
<path d="M446.7 285.2H451.7M449.2 282.2V288.2" stroke="#000" stroke-width="1.15" fill="none"/>
<path d="M465.2 285.2H470.2M467.7 282.2V288.2" stroke="#000" stroke-width="1.15" fill="none"/>
<path d="M481.3 285.2H486.3M483.8 282.2V288.2" stroke="#000" stroke-width="1.15" fill="none"/>
<path d="M483.5 285.2H488.5M486 282.2V288.2" stroke="#000" stroke-width="1.15" fill="none"/>
<path d="M498.3 285.2H503.3M500.8 282.2V288.2" stroke="#000" stroke-width="1.15" fill="none"/>
</svg>
</body></html>
